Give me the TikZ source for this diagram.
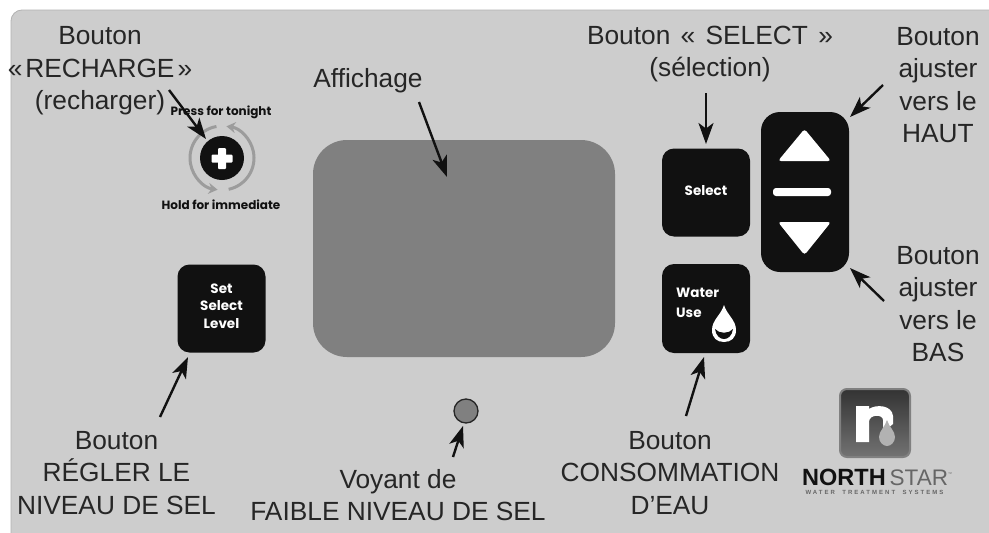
\documentclass[tikz,border=0pt]{standalone}
\usepackage{fontspec}
\setmainfont{Liberation Sans}
\newfontfamily\panelfont{Poppins}
\usetikzlibrary{arrows.meta,shapes.geometric}
\definecolor{panelgray}{HTML}{CDCDCD}
\definecolor{inkblack}{HTML}{111111}
\definecolor{labelink}{HTML}{262626}
\definecolor{ringgray}{HTML}{9C9C9C}
\tikzset{
  lab/.style={text=labelink,align=center,font=\fontsize{26.3}{32.5}\selectfont,inner sep=0pt},
  callout/.style={draw=inkblack,line width=2.4pt,-{Stealth[length=21pt,width=15pt,inset=5.5pt]}},
  keycap/.style={fill=inkblack,draw=none,rounded corners=12pt},
  keytext/.style={text=white,align=center,font=\panelfont\bfseries\fontsize{13.5}{17.5}\selectfont,inner sep=0pt},
  paneltext/.style={text=inkblack,font=\panelfont\bfseries\fontsize{12}{12}\selectfont,inner sep=0pt},
  ring/.style={draw=ringgray,line width=3pt,-{Stealth[length=9pt,width=11pt]}}
}
\begin{document}
\begin{tikzpicture}[x=1pt,y=-1pt]
\useasboundingbox (0,0) rectangle (989,533);
\fill[white] (0,0) rectangle (989,533);
% panel
\begin{scope}
\clip (0,0) rectangle (989,533);
\path[fill=panelgray,draw=black!30,line width=0.8pt,rounded corners=11pt] (11,570) -- (11,10) -- (1030,10) -- (1030,570) -- cycle;
\end{scope}
% display
\node[fill=black!50,draw=none,rounded corners=34pt,minimum width=302pt,minimum height=217pt,inner sep=0pt] (display) at (464,248.5) {};
% recharge
\node[circle,fill=inkblack,minimum size=44pt,inner sep=0pt] (recharge) at (222,158) {};
\fill[white,rounded corners=1pt] (218,148) rectangle (226,169);
\fill[white,rounded corners=1pt] (211.5,154.5) rectangle (232.5,162.5);
\draw[ring] (222,158) ++(-100:32) arc[start angle=-100,end angle=-262,radius=32];
\draw[ring] (222,158) ++(78:32) arc[start angle=78,end angle=-82,radius=32];
\node[paneltext] (presstxt) at (221,112) {Press for tonight};
\node[paneltext] (holdtxt) at (221,205) {Hold for immediate};
% set select level
\node[keycap,minimum width=88pt,minimum height=88pt,inner sep=0pt] (setkey) at (221.5,308.5) {};
\node[keytext] (settxt) at (221.5,306) {Set\\Select\\Level};
% select
\node[keycap,minimum width=88pt,minimum height=88pt,inner sep=0pt] (selectkey) at (706,192.5) {};
\node[keytext] (selecttxt) at (706,191) {Select};
% water use
\node[keycap,minimum width=88pt,minimum height=89pt,inner sep=0pt] (waterkey) at (706,308.5) {};
\node[keytext,align=left,anchor=base west,font=\panelfont\bfseries\fontsize{13.5}{20.5}\selectfont] (watertxt) at (676,317.5) {Water\\Use};
\fill[white] (724,305) .. controls (727,315) and (736,320) .. (736,330) .. controls (736,338) and (731,342) .. (724,342) .. controls (717,342) and (712,338) .. (712,330) .. controls (712,320) and (721,315) .. (724,305) -- cycle;
\fill[inkblack] (715,329) .. controls (719,334) and (729,334) .. (733,329) .. controls (732,336) and (728,339) .. (724,339) .. controls (720,339) and (716,336) .. (715,329) -- cycle;
% up-down
\node[fill=inkblack,rounded corners=19pt,minimum width=88pt,minimum height=160pt,inner sep=0pt] (updown) at (805,192) {};
\fill[white,rounded corners=3pt] (804.5,129) -- (831,161) -- (778,161) -- cycle;
\fill[white,rounded corners=3pt] (804.5,255) -- (831,222) -- (778,222) -- cycle;
\fill[white,rounded corners=3pt] (773,188) rectangle (831,196);
% LED
\node[circle,fill=black!50,draw=black!85,line width=1.3pt,minimum size=24pt,inner sep=0pt] (led) at (466,411) {};
% logo
\node[rounded corners=7pt,top color=black!80,bottom color=black!55,draw=black!50,line width=2pt,minimum width=70pt,minimum height=68pt,inner sep=0pt] (logo) at (875,423) {};
\fill[white] (856,406) -- (869,406) -- (869,409) .. controls (876,404) and (892,405) .. (893,416) -- (893,424) -- (883,432) -- (883,420) .. controls (883,414) and (869,414) .. (869,422) -- (869,442) -- (856,442) -- cycle;
\fill[black!30] (887,420) .. controls (889,427) and (895,431) .. (895,437) .. controls (895,442) and (891,446) .. (887,446) .. controls (883,446) and (879,442) .. (879,437) .. controls (879,431) and (885,427) .. (887,420) -- cycle;
\node[inner sep=0pt,anchor=base west,text=inkblack] (brand) at (802,485) {\fontsize{23.5}{24}\selectfont\bfseries NORTH\,\textcolor{black!60}{\fontsize{22.5}{24}\selectfont\mdseries STAR\raisebox{10pt}{\fontsize{4}{5}\selectfont ™}}};
\node[inner sep=0pt,text=black!60] (tag) at (874.5,492) {\fontsize{6}{6}\selectfont\addfontfeature{LetterSpace=34}\bfseries WATER\ \ TREATMENT\ \ SYSTEMS};
% labels
\node[lab] (lrecharge) at (100,71) {Bouton\\«\kern3pt RECHARGE\kern3pt »\\(recharger)};
\node[lab] (laff) at (368,81) {Affichage};
\node[lab] (lselect) at (710,54) {Bouton\kern3pt\ «\kern3pt\ SELECT\kern3pt\ »\\(sélection)};
\node[lab] (lup) at (938,85) {Bouton\\ajuster\\vers le\\HAUT};
\node[lab] (ldown) at (938,304) {Bouton\\ajuster\\vers le\\BAS};
\node[lab] (lset) at (116.5,473) {Bouton\\RÉGLER LE\\NIVEAU DE SEL};
\node[lab] (lled) at (398,495) {Voyant de\\FAIBLE NIVEAU DE SEL};
\node[lab] (lwater) at (670,473) {Bouton\\CONSOMMATION\\D’EAU};
% connector ends
\coordinate (arech) at (206,139);
\coordinate (aaff) at (447,177);
\coordinate (asel) at (706,144);
\coordinate (aup) at (850,117);
\coordinate (adown) at (850,268);
\coordinate (aset) at (188,357);
\coordinate (awat) at (704,357);
\coordinate (aled) at (463,426);
\coordinate (srech) at (169,90);
\coordinate (saff) at (419,102);
\coordinate (ssel) at (706,93);
\coordinate (sup) at (883,85);
\coordinate (sdown) at (884,301);
\coordinate (sset) at (160,417);
\coordinate (swat) at (686,416);
\coordinate (sled) at (453,457);
\draw[callout] (srech) -- (arech);
\draw[callout] (saff) -- (aaff);
\draw[callout] (ssel) -- (asel);
\draw[callout] (sup) -- (aup);
\draw[callout] (sdown) -- (adown);
\draw[callout] (sset) -- (aset);
\draw[callout] (swat) -- (awat);
\draw[callout] (sled) -- (aled);
\end{tikzpicture}
\end{document}
